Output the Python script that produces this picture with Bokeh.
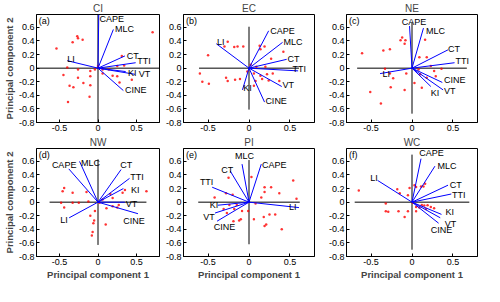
from bokeh.plotting import figure
from bokeh.layouts import column, row
from bokeh.models import FixedTicker, Range1d, ColumnDataSource
from bokeh.embed import file_html
from bokeh.resources import INLINE
from bokeh.core.properties import value

var_names = ["CAPE", "MLC", "CT", "TTI", "KI", "VT", "CINE", "LI"]
panel_titles = ["CI", "EC", "NE", "NW", "PI", "WC"]
panel_tags = ["(a)", "(b)", "(c)", "(d)", "(e)", "(f)"]

x_ticks = [-0.5, 0, 0.5]
x_tick_labels = ["-0.5", "0", "0.5"]
y_ticks = [-0.8, -0.6, -0.4, -0.2, 0, 0.2, 0.4, 0.6]
y_tick_labels = ["-0.8", "-0.6", "-0.4", "-0.2", "0", "0.2", "0.4", "0.6"]

# ---- (a) CI ----
ci_vec_x = [0.01, 0.20, 0.35, 0.49, 0.36, 0.48, 0.33, -0.40]
ci_vec_y = [0.79, 0.57, 0.18, 0.08, -0.05, -0.09, -0.33, 0.11]
ci_lab_x = [0.02, 0.22, 0.375, 0.51, 0.39, 0.53, 0.35, -0.40]
ci_lab_y = [0.72, 0.58, 0.18, 0.10, -0.07, -0.09, -0.32, 0.14]
ci_axis_len = 0.85
ci_pts_x = [0.71, -0.27, -0.26, -0.33, -0.20, -0.54, 0.31, 0.34, 0.25, -0.40, -0.26, -0.10, -0.04, -0.45, -0.10,
            0.06, 0.19, 0.25, 0.44, -0.26, -0.19, -0.10, -0.37, -0.32, 0.28, -0.11, -0.39, 0.14, 0.06, 0.00]
ci_pts_y = [0.53, 0.47, 0.44, 0.38, 0.42, 0.29, 0.18, 0.04, 0.03, 0.01, -0.02, -0.04, -0.02, -0.10, -0.12,
            -0.08, -0.11, -0.12, -0.17, -0.14, -0.22, -0.25, -0.26, -0.28, -0.21, -0.42, -0.50, -0.02, -0.02, 0.03]

# ---- (b) EC ----
ec_vec_x = [0.24, 0.41, 0.46, 0.60, -0.08, 0.40, 0.19, -0.40]
ec_vec_y = [0.55, 0.38, 0.13, -0.04, -0.32, -0.27, -0.50, 0.36]
ec_lab_x = [0.26, 0.42, 0.47, 0.53, -0.07, 0.41, 0.20, -0.39]
ec_lab_y = [0.55, 0.39, 0.14, -0.01, -0.29, -0.25, -0.48, 0.38]
ec_axis_len = 0.61
ec_pts_x = [-0.26, -0.14, -0.18, -0.07, -0.30, 0.13, 0.19, 0.14, 0.42, 0.27, -0.50, 0.02, 0.09, 0.20, -0.60,
            -0.57, -0.49, -0.28, -0.26, -0.17, -0.11, 0.06, 0.14, 0.22, 0.29, 0.16, 0.08, 0.24, 0.37, 0.06, -0.02]
ec_pts_y = [0.39, 0.32, 0.31, 0.32, 0.32, 0.33, 0.32, 0.28, 0.24, 0.14, 0.19, 0.05, 0.02, 0.02, -0.08,
            -0.20, -0.23, -0.14, -0.19, -0.17, -0.16, -0.08, -0.11, -0.09, -0.08, -0.16, -0.19, -0.18, -0.19, -0.26, -0.05]

# ---- (c) NE ----
ne_vec_x = [-0.03, 0.14, 0.44, 0.52, 0.23, 0.38, 0.37, -0.39]
ne_vec_y = [0.62, 0.59, 0.27, 0.08, -0.27, -0.32, -0.21, -0.08]
ne_lab_x = [-0.125, 0.17, 0.44, 0.53, 0.23, 0.39, 0.39, -0.36]
ne_lab_y = [0.68, 0.55, 0.28, 0.10, -0.36, -0.34, -0.18, -0.08]
ne_axis_len = 0.67
ne_pts_x = [-0.61, -0.35, -0.27, -0.12, -0.14, -0.08, -0.09, 0.16, 0.09, 0.18, 0.23, 0.36, -0.33, -0.27,
            -0.23, -0.07, 0.03, 0.10, 0.18, 0.29, 0.27, -0.26, -0.09, 0.12, -0.51, -0.38, 0.08]
ne_pts_y = [0.22, 0.26, 0.28, 0.45, 0.41, 0.41, 0.36, 0.42, 0.16, 0.16, 0.03, -0.01, -0.01, -0.08,
            -0.15, -0.08, -0.22, -0.09, -0.14, -0.12, -0.04, -0.28, -0.32, -0.29, -0.35, -0.52, -0.02]

# ---- (d) NW ----
nw_vec_x = [-0.38, -0.24, 0.30, 0.41, 0.33, 0.35, 0.52, -0.375]
nw_vec_y = [0.49, 0.60, 0.48, 0.35, 0.20, 0.00, -0.17, -0.23]
nw_lab_x = [-0.60, -0.22, 0.29, 0.42, 0.43, 0.36, 0.33, -0.49]
nw_lab_y = [0.54, 0.58, 0.55, 0.37, 0.18, -0.03, -0.27, -0.26]
nw_axis_len = 0.63
nw_pts_x = [0.63, -0.44, -0.46, -0.33, -0.15, 0.35, 0.32, 0.16, 0.19, 0.06, -0.48, -0.33, -0.25, -0.125,
            -0.44, 0.19, 0.27, 0.25, 0.11, -0.10, -0.05, -0.06, 0.10, -0.07, -0.08, -0.04, 0.02]
nw_pts_y = [0.16, 0.21, 0.16, 0.14, 0.15, 0.18, 0.14, 0.12, 0.06, 0.04, -0.01, -0.01, -0.01, 0.01,
            -0.08, -0.06, -0.04, -0.08, -0.09, -0.20, -0.27, -0.31, -0.33, -0.44, -0.49, -0.13, -0.01]

# ---- (e) PI ----
pi_vec_x = [0.15, -0.085, -0.23, -0.45, -0.38, -0.415, -0.39, 0.61]
pi_vec_y = [0.56, 0.56, 0.46, 0.22, -0.045, -0.16, -0.28, -0.08]
pi_lab_x = [0.16, -0.17, -0.34, -0.60, -0.48, -0.56, -0.43, 0.49]
pi_lab_y = [0.55, 0.68, 0.48, 0.29, -0.035, -0.22, -0.36, -0.07]
pi_axis_len = 0.62
pi_pts_x = [0.54, 0.58, 0.37, 0.27, 0.19, 0.19, -0.25, 0.03, -0.20, -0.28, -0.42, 0.15, -0.24, -0.15, -0.31,
            -0.18, -0.27, -0.085, -0.01, 0.25, 0.32, 0.18, 0.06, -0.10, -0.12, -0.19, 0.19, 0.21, 0.40, 0.08]
pi_pts_y = [0.32, 0.05, 0.13, 0.22, 0.22, 0.15, 0.36, 0.37, 0.11, 0.13, 0.07, 0.07, -0.04, -0.04, -0.10,
            -0.10, -0.16, -0.13, -0.13, -0.18, -0.18, -0.22, -0.25, -0.25, -0.27, -0.28, -0.35, -0.33, -0.40, -0.02]

# ---- (f) WC ----
wc_vec_x = [0.11, 0.28, 0.44, 0.48, 0.36, 0.345, 0.325, -0.42]
wc_vec_y = [0.64, 0.53, 0.25, 0.12, -0.18, -0.23, -0.31, 0.32]
wc_lab_x = [0.09, 0.31, 0.46, 0.49, 0.41, 0.40, 0.23, -0.51]
wc_lab_y = [0.72, 0.53, 0.25, 0.11, -0.14, -0.32, -0.41, 0.36]
wc_axis_len = 0.70
wc_pts_x = [-0.65, -0.32, -0.32, -0.29, -0.165, -0.09, -0.05, -0.18, -0.15, -0.05, -0.03, 0.03, 0.05, 0.11,
            0.14, 0.16, 0.12, 0.15, 0.19, 0.05, 0.09, 0.23, 0.17, 0.27, 0.05, 0.01]
wc_pts_y = [0.17, -0.02, -0.135, -0.14, -0.135, -0.22, -0.135, 0.19, 0.13, 0.10, 0.21, 0.25, 0.225, 0.23,
            0.23, 0.27, -0.04, -0.05, -0.045, -0.07, -0.08, -0.07, -0.10, -0.09, -0.135, -0.01]

panels = [
    (ci_vec_x, ci_vec_y, ci_lab_x, ci_lab_y, ci_axis_len, ci_pts_x, ci_pts_y),
    (ec_vec_x, ec_vec_y, ec_lab_x, ec_lab_y, ec_axis_len, ec_pts_x, ec_pts_y),
    (ne_vec_x, ne_vec_y, ne_lab_x, ne_lab_y, ne_axis_len, ne_pts_x, ne_pts_y),
    (nw_vec_x, nw_vec_y, nw_lab_x, nw_lab_y, nw_axis_len, nw_pts_x, nw_pts_y),
    (pi_vec_x, pi_vec_y, pi_lab_x, pi_lab_y, pi_axis_len, pi_pts_x, pi_pts_y),
    (wc_vec_x, wc_vec_y, wc_lab_x, wc_lab_y, wc_axis_len, wc_pts_x, wc_pts_y),
]

FONT = "Liberation Sans"

# layout geometry (pixels); whole layout 480 x 286 to fit inside the 8px page margin
col_widths = [161, 155, 164]
col_left = [28, 22, 30]
col_right = [2, 2, 3]
row_heights = [134, 152]
row_top = [12, 12]
row_bottom = [12, 30]

figs = []
for i, (vx, vy, lx, ly, alen, ptx, pty) in enumerate(panels):
    r, c = divmod(i, 3)
    p = figure(width=col_widths[c], height=row_heights[r],
               x_range=Range1d(-0.8, 0.8), y_range=Range1d(-0.8, 0.79),
               output_backend="svg", toolbar_location=None,
               min_border_left=col_left[c], min_border_right=col_right[c],
               min_border_top=row_top[r], min_border_bottom=row_bottom[r])
    p.title.text = panel_titles[i]
    p.title.align = "center"
    p.title.text_font = FONT
    p.title.text_font_size = "10px"
    p.title.text_font_style = "normal"
    p.title.standoff = 1
    p.background_fill_color = "white"
    p.border_fill_color = "white"
    p.outline_line_color = "black"
    p.outline_line_width = 1
    p.grid.visible = False

    for ax in (p.xaxis, p.yaxis):
        ax.major_tick_in = 3
        ax.major_tick_out = 0
        ax.minor_tick_line_color = None
        ax.axis_line_color = "black"
        ax.major_label_text_font = FONT
        ax.major_label_text_font_size = "9px"
        ax.major_label_text_color = "black"
        ax.major_label_standoff = 2
        ax.axis_label_text_font = FONT
        ax.axis_label_text_font_size = "9.5px"
        ax.axis_label_text_font_style = "bold"
        ax.axis_label_standoff = 1
    p.xaxis.ticker = FixedTicker(ticks=x_ticks)
    p.xaxis.major_label_overrides = {t: s for t, s in zip(x_ticks, x_tick_labels)}
    p.yaxis.ticker = FixedTicker(ticks=y_ticks)
    p.yaxis.major_label_overrides = {t: s for t, s in zip(y_ticks, y_tick_labels)}
    if c == 0:
        p.yaxis.axis_label = "Principal component 2"
    if r == 1:
        p.xaxis.axis_label = "Principal component 1"

    # biplot axes lines
    p.segment(x0=[-alen, 0], y0=[0, -alen], x1=[alen, 0], y1=[0, alen],
              line_color="black", line_width=1)
    # observation scores
    p.scatter(ptx, pty, size=2.5, marker="circle", fill_color="red", line_color=None, alpha=0.8)
    # variable loadings
    n = len(vx)
    p.segment(x0=[0] * n, y0=[0] * n, x1=vx, y1=vy, line_color="blue", line_width=1)
    src = ColumnDataSource(dict(x=lx, y=ly, t=var_names))
    p.text(x="x", y="y", text="t", source=src, text_font=value(FONT), text_font_size="9px",
           text_align="left", text_baseline="middle", text_color="black")
    # panel tag
    p.text(x=[-0.77], y=[0.70], text=[panel_tags[i]], text_font=value(FONT), text_font_size="9px",
           text_align="left", text_baseline="middle", text_color="black")
    figs.append(p)

layout = column(row(*figs[:3]), row(*figs[3:]))
open("out.html", "w").write(file_html(layout, INLINE))
